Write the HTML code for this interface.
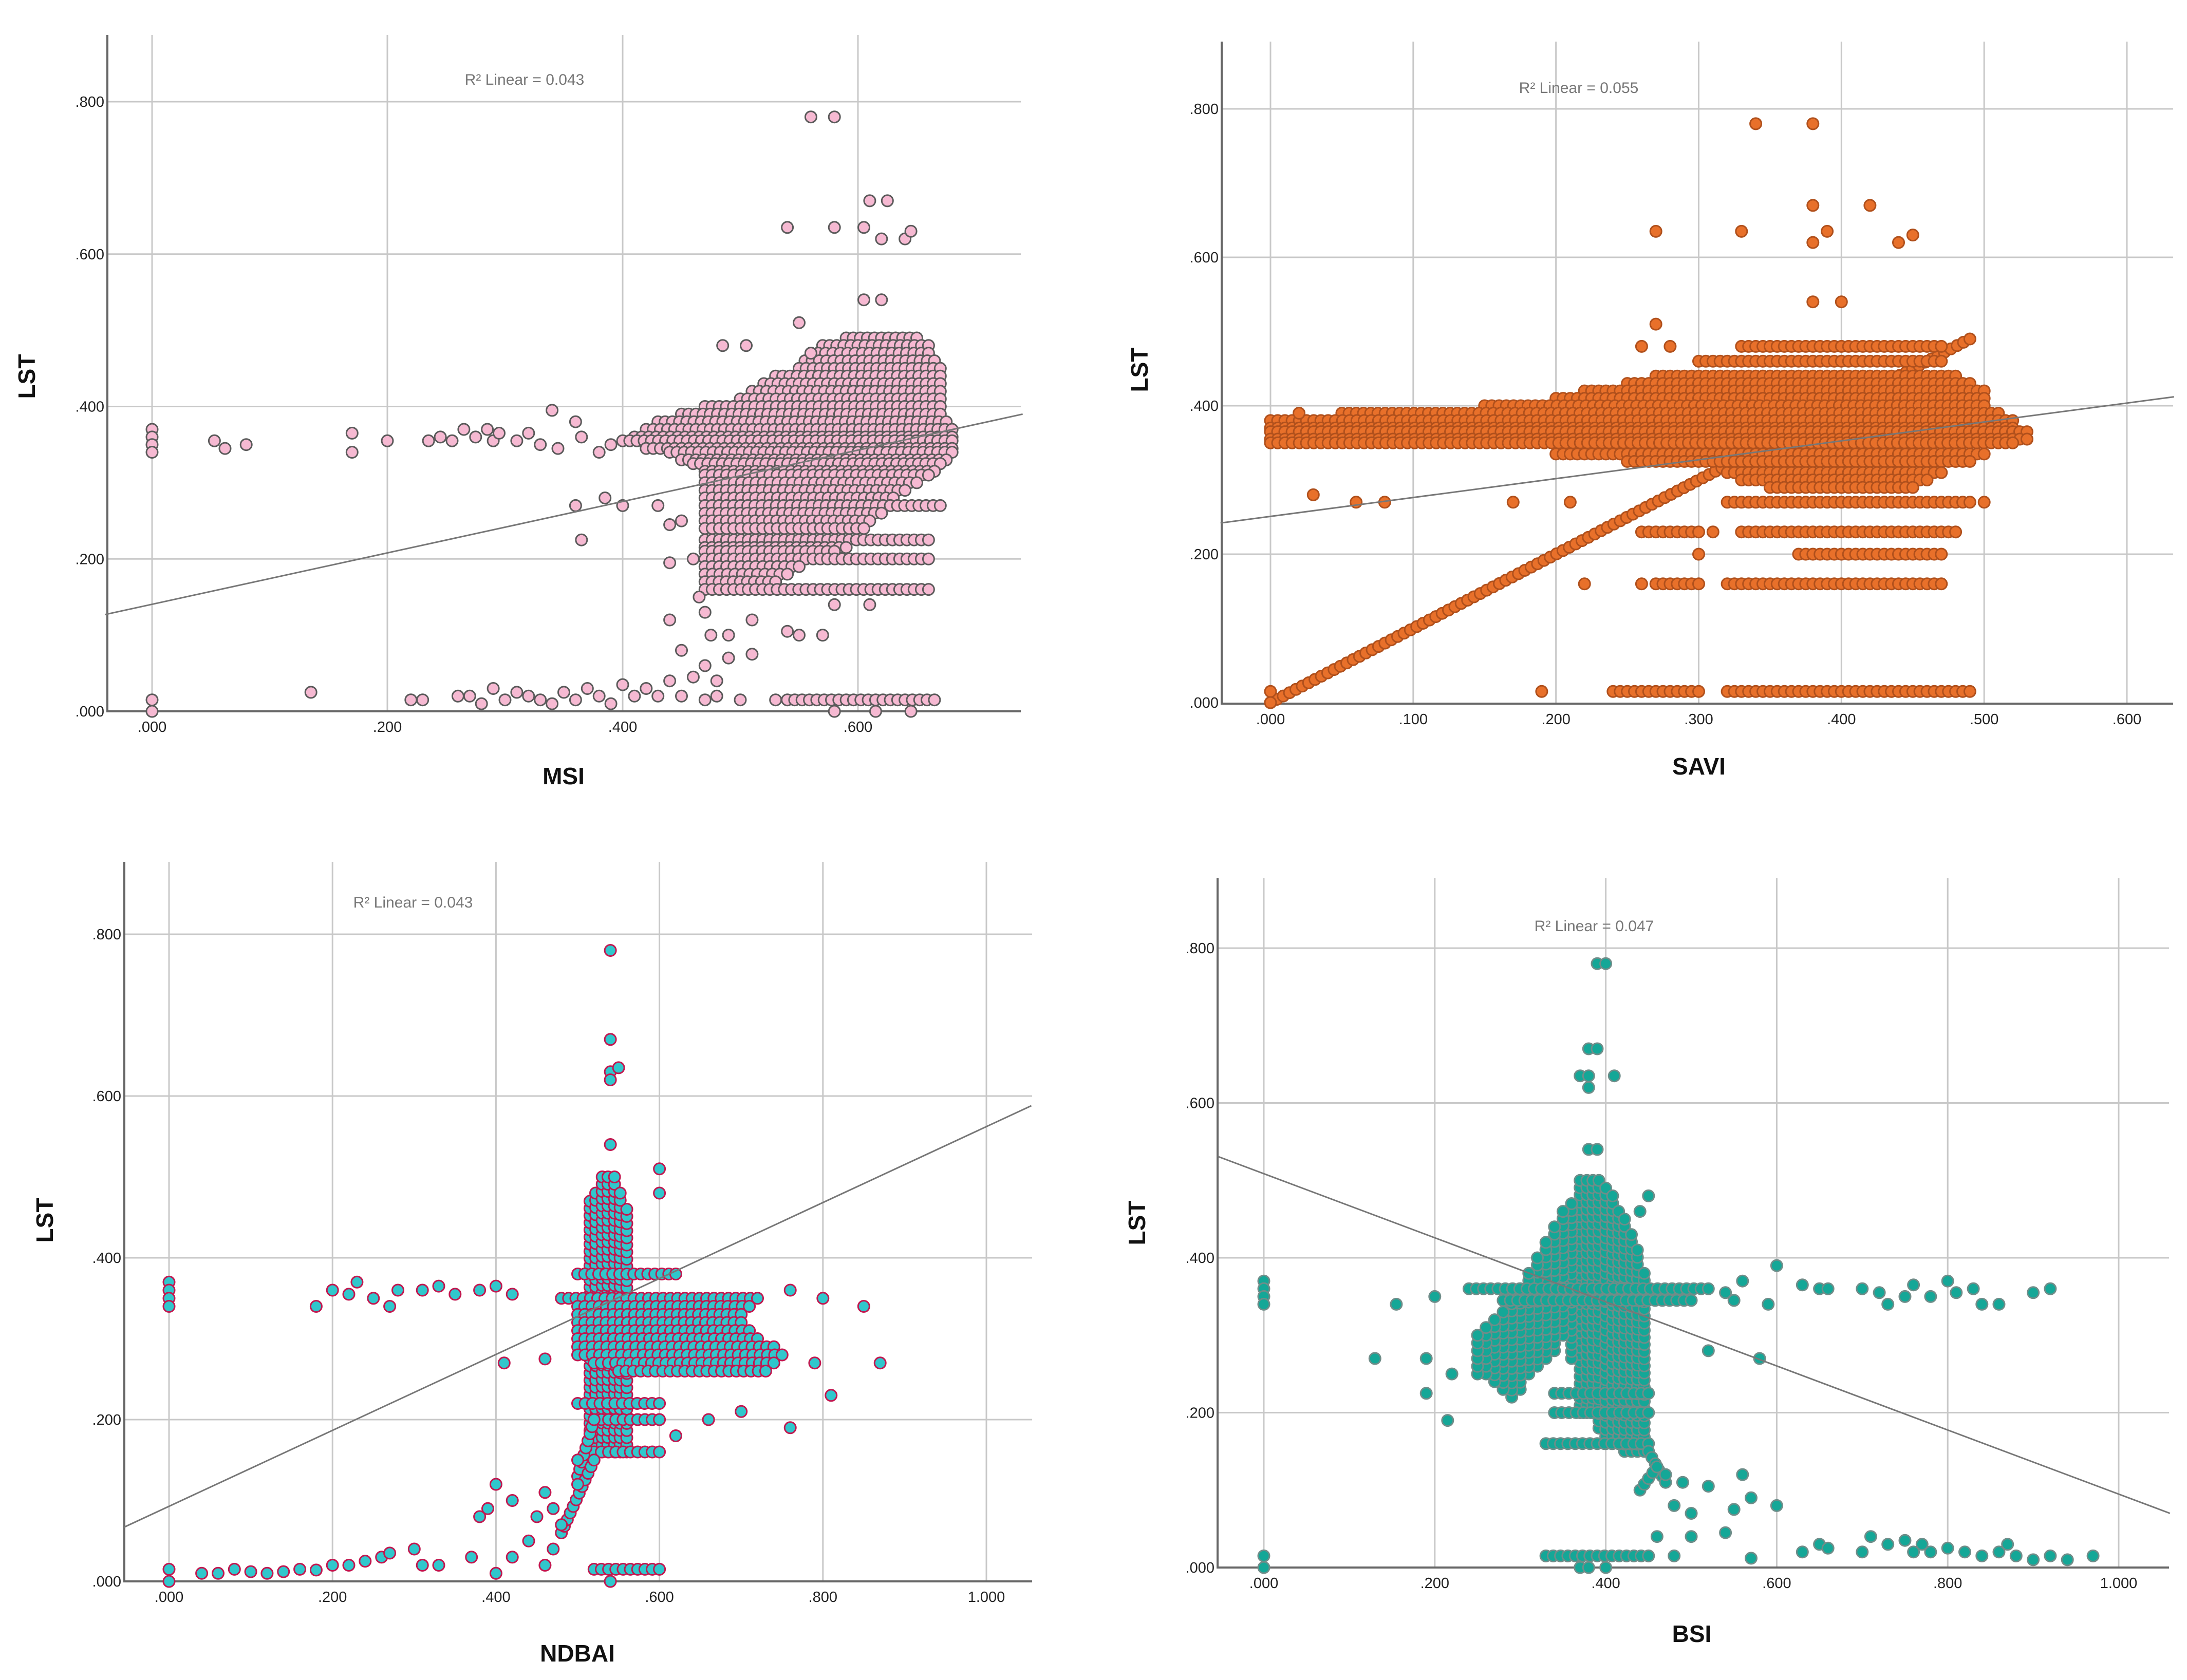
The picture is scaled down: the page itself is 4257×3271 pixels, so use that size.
<!DOCTYPE html>
<html><head><meta charset="utf-8"><style>
html,body{margin:0;padding:0;background:#fff}
svg{display:block}
text{font-family:"Liberation Sans",Arial,sans-serif}
</style></head><body>
<svg id="chart" width="4257" height="3271" viewBox="0 0 4257 3271" xmlns="http://www.w3.org/2000/svg"></svg>
<script>
// ---------- DATA ----------
const msiXTicks = [0, 0.2, 0.4, 0.6];
const savivXTicks = [0, 0.1, 0.2, 0.3, 0.4, 0.5, 0.6];
const ndbaiXTicks = [0, 0.2, 0.4, 0.6, 0.8, 1.0];
const bsiXTicks = [0, 0.2, 0.4, 0.6, 0.8, 1.0];
const yTicks = [0, 0.2, 0.4, 0.6, 0.8];
const r2Labels = ["R² Linear = 0.043", "R² Linear = 0.055", "R² Linear = 0.043", "R² Linear = 0.047"];
const xTitles = ["MSI", "SAVI", "NDBAI", "BSI"];
// regression [x0,y0,x1,y1]
const fitLines = [[-0.04,0.127,0.74,0.39],[-0.035,0.242,0.633,0.412],[-0.055,0.067,1.055,0.588],[-0.054,0.531,1.06,0.07]];

const msiPoints = [[0,.37],[0,.36],[0,.35],[0,.34],[0,.015],[0,0],[.053,.355],[.062,.345],[.08,.35],[.135,.025],[.17,.365],[.17,.34],[.2,.355],[.235,.355],[.245,.36],[.255,.355],[.265,.37],[.275,.36],[.285,.37],[.29,.355],[.295,.365],[.31,.355],[.32,.365],[.33,.35],[.34,.395],[.345,.345],[.36,.38],[.365,.36],[.38,.34],[.39,.35],[.36,.27],[.385,.28],[.4,.27],[.43,.27],[.365,.225],[.44,.245],[.45,.25],[.44,.195],[.46,.2],[.44,.12],[.45,.08],[.465,.15],[.47,.13],[.475,.10],[.47,.06],[.48,.04],[.49,.07],[.49,.10],[.51,.12],[.51,.075],[.485,.48],[.505,.48],[.56,.78],[.58,.78],[.54,.635],[.58,.635],[.605,.635],[.61,.67],[.625,.67],[.62,.62],[.64,.62],[.645,.63],[.605,.54],[.62,.54],[.55,.51],[.56,.47],[.54,.105],[.55,.1],[.57,.1],[.58,.14],[.61,.14],[.22,.015],[.23,.015],[.26,.02],[.27,.02],[.28,.01],[.29,.03],[.3,.015],[.31,.025],[.32,.02],[.33,.015],[.34,.01],[.35,.025],[.36,.015],[.37,.03],[.38,.02],[.39,.01],[.4,.035],[.41,.02],[.42,.03],[.43,.02],[.44,.04],[.45,.02],[.46,.045],[.47,.015],[.48,.02],[.5,.015],[.53,.015],[.58,0],[.615,0],[.645,0]];
// segments [x0,y0,x1,y1]
const msiSegments = [[.59,.49,.65,.49],[.57,.48,.66,.48],[.56,.47,.66,.47],[.555,.46,.665,.46],[.55,.45,.67,.45],[.53,.44,.67,.44],[.52,.43,.67,.43],[.51,.42,.67,.42],[.50,.41,.67,.41],[.47,.40,.67,.40],[.45,.39,.67,.39],[.43,.38,.675,.38],[.42,.37,.68,.37],[.41,.36,.68,.36],[.40,.355,.68,.355],[.42,.345,.68,.345],[.44,.34,.68,.34],[.45,.33,.675,.33],[.46,.325,.67,.325],[.47,.315,.665,.315],[.47,.31,.66,.31],[.47,.30,.65,.30],[.47,.29,.64,.29],[.47,.28,.63,.28],[.47,.27,.67,.27],[.47,.26,.62,.26],[.47,.25,.61,.25],[.47,.24,.605,.24],[.47,.225,.66,.225],[.47,.215,.59,.215],[.47,.21,.58,.21],[.47,.2,.66,.2],[.47,.19,.55,.19],[.47,.18,.54,.18],[.47,.17,.53,.17],[.47,.16,.66,.16],[.54,.015,.665,.015]];

const saviPoints = [[.34,.78],[.38,.78],[.38,.67],[.42,.67],[.27,.635],[.33,.635],[.39,.635],[.38,.62],[.44,.62],[.45,.63],[.38,.54],[.40,.54],[.27,.51],[.26,.48],[.28,.48],[.03,.28],[.08,.27],[.06,.27],[.17,.27],[.21,.27],[.19,.015],[.0,.015],[.0,.0],[.22,.16],[.26,.16],[.53,.355],[.5,.27],[.02,.39],[.31,.23],[.3,.2]];
const saviSegments = [[0,0,.49,.49],[.33,.48,.47,.48],[.30,.46,.47,.46],[.27,.44,.48,.44],[.25,.43,.49,.43],[.22,.42,.5,.42],[.20,.41,.5,.41],[.15,.40,.5,.40],[.05,.39,.51,.39],[0,.38,.52,.38],[0,.37,.52,.37],[0,.365,.53,.365],[0,.355,.53,.355],[0,.35,.52,.35],[.2,.335,.5,.335],[.25,.325,.49,.325],[.32,.31,.47,.31],[.33,.30,.46,.30],[.35,.29,.45,.29],[.32,.27,.49,.27],[.26,.23,.30,.23],[.33,.23,.48,.23],[.37,.2,.47,.2],[.27,.16,.30,.16],[.32,.16,.47,.16],[.24,.015,.30,.015],[.32,.015,.49,.015]];

const ndbaiPoints = [[0,.37],[0,.36],[0,.35],[0,.34],[0,.015],[0,0],[.54,.78],[.54,.67],[.54,.63],[.55,.635],[.54,.62],[.54,.54],[.6,.51],[.6,.48],[.18,.34],[.2,.36],[.22,.355],[.23,.37],[.25,.35],[.27,.34],[.28,.36],[.31,.36],[.33,.365],[.35,.355],[.38,.36],[.4,.365],[.42,.355],[.41,.27],[.46,.275],[.76,.36],[.8,.35],[.85,.34],[.87,.27],[.79,.27],[.81,.23],[.76,.19],[.7,.21],[.66,.2],[.62,.18],[.38,.08],[.39,.09],[.4,.12],[.42,.1],[.45,.08],[.46,.11],[.47,.09],[.48,.07],[.44,.05],[.47,.04],[.42,.03],[.46,.02],[.5,.12],[.5,.15],[.04,.01],[.06,.01],[.08,.015],[.1,.012],[.12,.01],[.14,.012],[.16,.015],[.18,.014],[.2,.02],[.22,.02],[.24,.025],[.26,.03],[.27,.035],[.3,.04],[.31,.02],[.33,.02],[.37,.03],[.4,.01],[.54,0]];
const ndbaiSegments = [[.515,.16,.515,.47],[.522,.16,.522,.48],[.53,.16,.53,.5],[.537,.16,.537,.5],[.545,.16,.545,.5],[.552,.16,.552,.48],[.56,.16,.56,.46],[.5,.38,.62,.38],[.48,.35,.72,.35],[.5,.34,.71,.34],[.5,.33,.7,.33],[.5,.32,.7,.32],[.5,.31,.71,.31],[.5,.30,.72,.30],[.5,.29,.74,.29],[.5,.28,.75,.28],[.52,.27,.74,.27],[.55,.26,.73,.26],[.5,.22,.6,.22],[.52,.2,.6,.2],[.52,.16,.6,.16],[.52,.015,.6,.015],[.5,.13,.52,.2],[.48,.06,.52,.15]];

const bsiPoints = [[0,.37],[0,.36],[0,.35],[0,.34],[0,.015],[0,0],[.39,.78],[.4,.78],[.38,.67],[.39,.67],[.37,.635],[.38,.635],[.41,.635],[.38,.62],[.38,.54],[.39,.54],[.13,.27],[.155,.34],[.19,.27],[.19,.225],[.2,.35],[.215,.19],[.22,.25],[.6,.39],[.59,.34],[.52,.28],[.58,.27],[.45,.48],[.44,.46],[.47,.12],[.49,.11],[.52,.105],[.56,.12],[.48,.08],[.5,.07],[.55,.075],[.57,.09],[.6,.08],[.54,.045],[.5,.04],[.46,.04],[.57,.012],[.48,.015],[.63,.02],[.65,.03],[.66,.025],[.7,.02],[.71,.04],[.73,.03],[.75,.035],[.76,.02],[.77,.03],[.78,.02],[.8,.025],[.82,.02],[.84,.015],[.86,.02],[.87,.03],[.88,.015],[.9,.01],[.92,.015],[.94,.01],[.97,.015],[.63,.365],[.65,.36],[.66,.36],[.7,.36],[.72,.355],[.73,.34],[.75,.35],[.76,.365],[.78,.35],[.8,.37],[.81,.355],[.83,.36],[.84,.34],[.86,.34],[.9,.355],[.92,.36],[.54,.355],[.55,.345],[.56,.37],[.37,0],[.38,0],[.4,0]];
const bsiSegments = [[.37,.2,.37,.5],[.378,.2,.378,.5],[.385,.2,.385,.5],[.392,.18,.392,.5],[.4,.16,.4,.49],[.408,.16,.408,.48],[.415,.16,.415,.46],[.422,.15,.422,.45],[.43,.15,.43,.43],[.437,.15,.437,.41],[.445,.15,.445,.38],[.36,.27,.36,.47],[.35,.3,.35,.46],[.34,.28,.34,.44],[.33,.27,.33,.42],[.32,.26,.32,.40],[.31,.25,.31,.38],[.30,.23,.30,.36],[.29,.22,.29,.35],[.28,.23,.28,.33],[.27,.24,.27,.32],[.26,.25,.26,.31],[.25,.25,.25,.3],[.24,.36,.52,.36],[.28,.345,.5,.345],[.34,.225,.45,.225],[.34,.2,.45,.2],[.33,.16,.45,.16],[.33,.015,.45,.015],[.45,.15,.47,.11],[.44,.1,.46,.13]];

// ---------- LAYOUT ----------
const panels = [
 {name:"msi", box:[209,68,1987,1385], x0:[0,296], x1:[0.6,1670], y0:1385, y8:198, ticks:msiXTicks, pts:msiPoints, segs:msiSegments, fill:"#f6b9d2", stroke:"#5a5a5a", r2:[1021,155], xt:[1097,1527], yt:[52,733]},
 {name:"savi", box:[2378,81,4230,1370], x0:[0,2473], x1:[0.6,4140], y0:1368, y8:212, ticks:savivXTicks, pts:saviPoints, segs:saviSegments, fill:"#e8702a", stroke:"#b0501c", r2:[3073,171], xt:[3307,1508], yt:[2218,720]},
 {name:"ndbai", box:[242,1678,2009,3079], x0:[0,329], x1:[1.0,1920], y0:3079, y8:1819, ticks:ndbaiXTicks, pts:ndbaiPoints, segs:ndbaiSegments, fill:"#30c7cc", stroke:"#c2174f", r2:[804,1757], xt:[1124,3235], yt:[87,2376]},
 {name:"bsi", box:[2370,1710,4222,3052], x0:[0,2460], x1:[1.0,4124], y0:3052, y8:1846, ticks:bsiXTicks, pts:bsiPoints, segs:bsiSegments, fill:"#14a797", stroke:"#6f8d89", r2:[3103,1803], xt:[3293,3197], yt:[2213,2381]}
];
const NS="http://www.w3.org/2000/svg";
const svg=document.getElementById('chart');
function mk(tag,attrs,parent){const e=document.createElementNS(NS,tag);for(const k in attrs)e.setAttribute(k,attrs[k]);(parent||svg).appendChild(e);return e;}
const fmt=v=>{let s=v.toFixed(3);return s.startsWith("0")?s.slice(1):s;};

panels.forEach((p,pi)=>{
  const g=mk('g',{});
  
  
  const sx=v=>p.x0[1]+(v-p.x0[0])*(p.x1[1]-p.x0[1])/(p.x1[0]-p.x0[0]);
  const sy=v=>p.y0+(v/0.8)*(p.y8-p.y0);
  const [L,T,R,B]=p.box;
  p.ticks.forEach(t=>{
    const l=mk('line',{x1:sx(t),x2:sx(t),y1:T,y2:B,stroke:"#c8c8c8","stroke-width":3},g);
    
    
    const tx=mk('text',{x:sx(t),y:B+40,"font-size":29,fill:"#222","text-anchor":"middle"},g);
    tx.textContent=fmt(t);
    
    
  });
  yTicks.forEach(t=>{
    if(t>0){const l=mk('line',{x1:L,x2:R,y1:sy(t),y2:sy(t),stroke:"#c8c8c8","stroke-width":3},g);
    
    }
    const tx=mk('text',{x:L-6,y:sy(t)+10,"font-size":29,fill:"#222","text-anchor":"end"},g);
    tx.textContent=fmt(t);
    
    
  });
  const ax=mk('path',{d:`M${L},${T}V${B}H${R}`,fill:"none",stroke:"#666","stroke-width":4},g);
  
  
  const pg=mk('g',{fill:p.fill,stroke:p.stroke,"stroke-width":3},g);
  
  
  const dot=(x,y)=>{const c=mk('circle',{cx:sx(x).toFixed(1),cy:sy(y).toFixed(1),r:11},pg);
    
    };
  p.segs.forEach(s=>{
    const dx=s[2]-s[0],dy=s[3]-s[1];
    const len=Math.hypot(sx(s[2])-sx(s[0]),sy(s[3])-sy(s[1]));
    const n=Math.max(1,Math.round(len/14));
    for(let i=0;i<=n;i++)dot(s[0]+dx*i/n,s[1]+dy*i/n);
  });
  p.pts.forEach(q=>dot(q[0],q[1]));
  const f=fitLines[pi];
  const fl=mk('line',{x1:sx(f[0]),y1:sy(f[1]),x2:sx(f[2]),y2:sy(f[3]),stroke:"#777","stroke-width":3},g);
  
  
  const r2=mk('text',{x:p.r2[0],y:p.r2[1]+10,"font-size":30,fill:"#777","text-anchor":"middle"},g);
  r2.textContent=r2Labels[pi];
  
  
  const xt=mk('text',{x:p.xt[0],y:p.xt[1],"font-size":46,"font-weight":"bold",fill:"#111","text-anchor":"middle"},g);
  xt.textContent=xTitles[pi];
  
  
  const yt=mk('text',{x:p.yt[0],y:p.yt[1],"font-size":46,"font-weight":"bold",fill:"#111","text-anchor":"middle",transform:`rotate(-90 ${p.yt[0]} ${p.yt[1]}) translate(0 16)`},g);
  yt.textContent="LST";
  
  
});
</script>
</body></html>
